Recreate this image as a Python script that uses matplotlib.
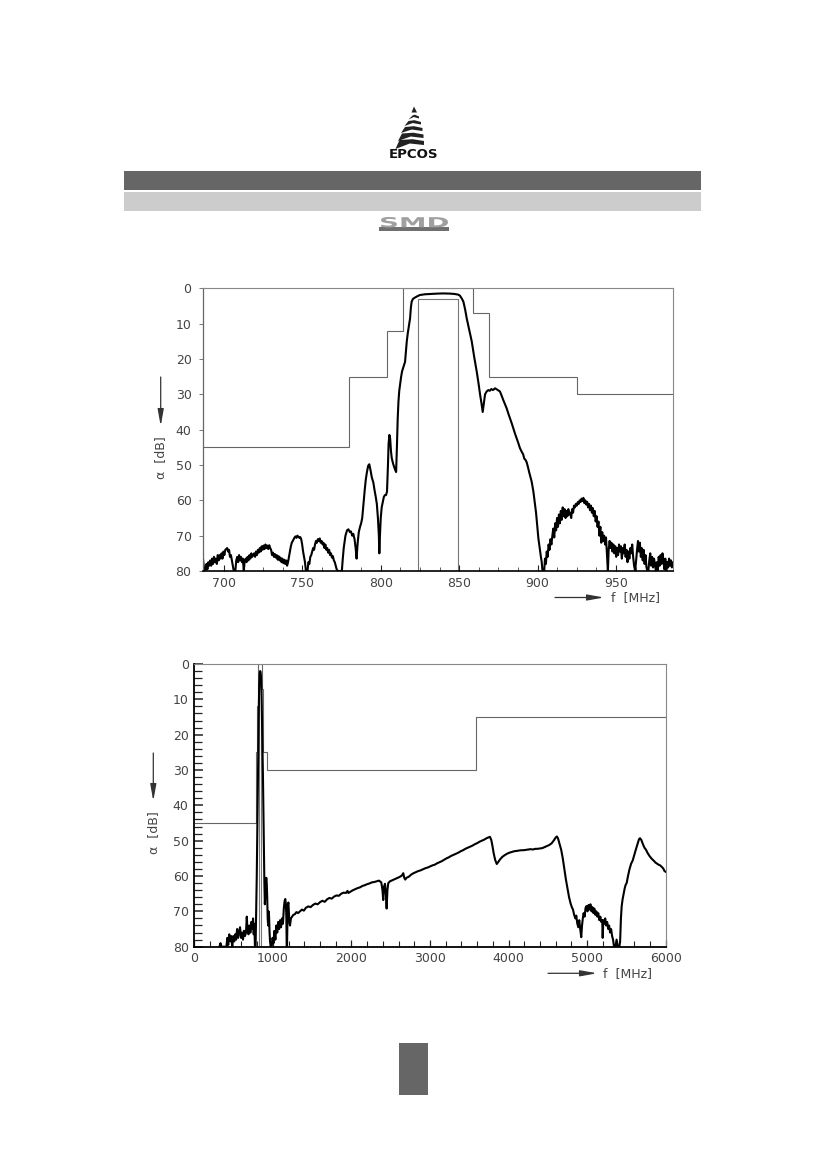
import matplotlib
matplotlib.use("Agg")
import matplotlib.pyplot as plt
from matplotlib.ticker import MultipleLocator, FixedLocator
from matplotlib.patches import Rectangle, Polygon, PathPatch
from matplotlib.textpath import TextPath
from matplotlib.font_manager import FontProperties
from matplotlib.transforms import Affine2D

plt.rcParams['font.family'] = ['DejaVu Sans']

# ---------------- data: narrow-band chart ----------------
top_f = [686.5, 687.0, 687.6, 688.3, 688.9, 689.5, 690.1, 690.7, 691.3, 691.9, 692.5, 693.1, 693.7, 694.3,
         694.9, 695.5, 696.1, 696.7, 697.3, 697.9, 698.5, 699.1, 699.7, 700.3, 700.9, 701.5, 702.1, 702.7,
         703.3, 703.9, 704.5, 705.1, 705.7, 706.3, 707.3, 707.9, 708.5, 709.1, 709.7, 710.3, 710.9, 711.5,
         712.1, 712.7, 713.3, 713.9, 714.5, 715.1, 715.7, 716.3, 716.9, 717.5, 718.1, 718.7, 719.3, 719.9,
         720.5, 721.1, 721.7, 722.3, 722.9, 723.5, 724.1, 724.7, 725.3, 725.9, 726.5, 727.1, 727.7, 728.3,
         728.9, 729.5, 730.1, 730.7, 731.3, 731.9, 732.5, 733.1, 733.7, 734.3, 734.9, 735.5, 736.1, 736.7,
         737.3, 737.9, 738.5, 739.1, 739.7, 740.3, 740.9, 741.5, 742.1, 742.7, 743.3, 743.9, 744.5, 745.1,
         745.7, 746.3, 746.9, 747.5, 748.1, 748.7, 749.3, 749.9, 750.5, 751.1, 751.7, 752.3, 753.3, 753.9,
         754.5, 755.1, 755.7, 756.3, 756.9, 757.5, 758.1, 758.7, 759.3, 759.9, 760.5, 761.1, 761.7, 762.3,
         762.9, 763.5, 764.1, 764.7, 765.3, 765.9, 766.5, 767.1, 767.7, 768.3, 768.9, 769.5, 770.1, 770.7,
         771.3, 771.9, 772.5, 775.2, 775.8, 776.4,
         777.5, 778.5, 779.4, 780.3, 781.0, 781.8, 782.5, 783.3, 784.0, 784.6, 785.3, 786.0, 786.8, 787.5,
         788.2, 789.0, 789.8, 790.5, 791.2, 792.0, 792.7, 793.5, 794.3, 795.3, 796.0, 796.8, 797.5, 798.2,
         798.8, 799.1, 799.5, 800.0, 800.6, 801.3, 802.0, 802.7, 803.4, 804.0, 804.6, 805.0, 805.5, 806.0,
         806.5, 807.0, 807.8, 808.5, 809.3, 809.8, 810.3, 810.8, 811.3, 811.8, 812.4, 813.0, 813.6, 814.3,
         815.0, 815.5, 816.0, 816.6, 817.3, 818.0, 818.7, 819.2, 819.7, 820.5, 821.9, 823.5, 825.0, 828.0,
         832.0, 836.0, 840.0, 844.0, 847.0, 849.5, 850.5, 851.8, 852.7, 853.8, 854.8, 856.4, 858.0, 859.6,
         861.2, 862.3, 863.3, 864.2, 865.0, 865.6, 866.5, 867.5, 868.6, 869.5, 870.5, 871.5, 872.9, 874.0,
         875.0, 876.0, 877.0, 878.0, 879.2, 880.3, 881.3, 882.4, 883.5, 884.5, 885.5, 886.6, 887.7, 888.8,
         889.8, 890.8, 891.5, 892.2, 893.0, 893.8, 894.6, 895.4, 896.2, 897.3, 898.4, 899.0, 899.5, 900.0,
         900.5, 901.0, 901.6, 902.1, 902.6, 903.1, 904.2, 904.7, 905.3, 905.8, 906.4, 907.0, 907.6, 908.2,
         908.8, 909.4, 910.0, 910.6, 911.2, 911.8, 912.4, 913.0, 913.6, 914.2, 914.8, 915.4, 916.0, 916.6,
         917.2, 917.8, 918.4, 919.0, 919.6, 920.2, 920.8, 921.4, 922.0, 922.6, 923.2, 923.8, 924.4, 925.0,
         925.6, 926.2, 926.8, 927.4, 928.0, 928.6, 929.2, 929.8, 930.4, 931.0, 931.6, 932.2, 932.8, 933.4,
         934.0, 934.6, 935.2, 935.8, 936.4, 937.0, 937.6, 938.2, 938.8, 939.4, 940.0, 940.6, 941.2, 941.8,
         942.4, 943.0, 943.6, 944.2, 944.8, 945.3, 945.9, 946.5, 947.1, 947.7, 948.3, 948.9, 949.5, 950.1,
         950.7, 951.3, 951.9, 952.5, 953.1, 953.7, 954.3, 954.9, 955.5, 956.1, 956.7, 957.3, 957.9, 958.5,
         959.1, 959.7, 960.3, 960.9, 961.5, 962.2, 962.8, 963.4, 964.0, 964.6, 965.2, 965.8, 966.4, 967.0,
         967.6, 968.2, 968.8, 969.4, 970.0, 970.6, 971.2, 971.8, 972.4, 973.0, 973.6, 974.2, 974.8, 975.4,
         976.0, 976.6, 977.2, 977.8, 978.4, 979.0, 979.6, 980.2, 980.8, 981.4, 982.0, 982.6, 983.2, 983.8,
         984.4, 985.0, 985.6, 986.5]
top_db = [75.5, 78, 80, 80, 78, 79.5, 77.5, 78.5, 77, 78.5, 76.5, 78, 76, 77.5,
          76.5, 78, 75.5, 77, 75.5, 76.5, 75, 76.5, 74.5, 75.5, 74, 73.8, 73.5, 74.5,
          74, 76, 75.5, 77, 78.5, 80, 80, 77, 76, 77.5, 75.5, 77, 76, 77.5,
          76.5, 80, 77, 76.5, 77.5, 76, 77, 75.5, 76.5, 75, 76, 75.5, 75, 76,
          74.5, 75.5, 74, 74.8, 73.5, 74.5, 73, 74, 72.8, 73.8, 72.5, 73.5, 72.8, 73.8,
          72.7, 73.5, 74, 75.5, 74.8, 76, 75.2, 76.2, 75.5, 76.8, 75.8, 77, 76.2, 77.5,
          76.5, 77.8, 76.8, 78, 77, 78.5, 77.5, 76, 74.5, 73, 72, 71.5, 71, 70.5,
          70.2, 70.6, 70, 70.3, 70.6, 70.4, 71, 72.5, 74.5, 76, 77.5, 80, 80, 77.5,
          78, 76, 75.5, 74.5, 73.5, 74, 72.5, 71.5, 72, 71, 71.5, 70.8, 72, 71.5,
          72.5, 72, 73.5, 72.5, 74, 73.5, 74.8, 74, 75.5, 75, 76.2, 75.8, 77, 77.5,
          78.5, 79.5, 80, 80, 76.5, 73.5,
          70, 68.5, 68.2, 69, 68.8, 70, 69.5, 71, 73.5, 76.5, 72, 69, 67.5, 66.5,
          65, 61, 57, 54, 52, 50.2, 49.8, 51.5, 53.5, 55, 57, 59, 61, 65,
          70, 75, 70, 65, 62, 60.5, 59, 58.5, 58.5, 57.5, 50, 44, 41.5, 42.5,
          46, 48, 49.5, 50.5, 51.5, 52, 45, 37, 32, 29, 27, 25, 23.5, 22.5,
          21.5, 20.8, 18, 15, 12.5, 10.5, 8.5, 5.5, 3.8, 3.0, 2.6, 2.2, 1.9, 1.7,
          1.6, 1.5, 1.45, 1.5, 1.6, 1.8, 2.1, 3.0, 3.8, 6, 8.5, 11.8, 15, 19.5,
          23.6, 26.8, 30, 32.5, 35, 33, 30, 29.2, 28.8, 29, 28.5, 28.8, 28.3, 28.6,
          28.9, 29.2, 30.3, 31.5, 32.8, 34, 35.4, 36.8, 38.2, 39.6, 41.0, 42.4, 43.8, 45.3,
          46.2, 47.0, 48.2, 48.5, 49.2, 50.5, 52, 53.3, 54.7, 57.5, 61.3, 63.5, 66, 68.5,
          70.8, 72.5, 74.5, 76, 77.4, 80, 80, 76.5, 78, 74.5, 76, 72.5, 74, 71,
          72.5, 70, 68, 70.5, 66.5, 68.5, 65, 67.5, 64, 66.5, 63, 65.5, 62, 64.5,
          62.5, 65, 63, 64.5, 62.5, 64, 63.5, 65, 62.5, 63.5, 61.5, 62, 61, 61.5,
          60.5, 61, 60, 60.5, 59.5, 60.2, 59.3, 60.8, 60, 61.2, 60.4, 62, 61, 62.8,
          61.5, 63.5, 62.2, 64.5, 63, 66, 64.5, 67.5, 66, 70, 67.5, 72, 69, 71.5,
          70, 72.5, 70.5, 75, 80, 74, 71.5, 73.5, 72, 74.5, 72.5, 75, 73, 76,
          73.5, 75.5, 72.5, 74.5, 73, 76.5, 73.5, 75, 72.5, 76, 74, 77.5, 74.5, 76.5,
          73.5, 75, 72.5, 76, 78.5, 80, 77, 74, 71.5, 74.5, 72, 76, 73.5, 77,
          74, 78, 75.5, 79, 80, 80, 77, 75, 78.5, 76, 79, 76.5, 78, 80,
          77.5, 80, 76, 78.5, 75.5, 78, 75, 77, 79.5, 76.5, 80, 77.5, 79, 76.5,
          78.5, 77, 79, 77.5]

# masks (narrow-band chart)
top_mask_edges = [686.5, 780, 804, 814, 859, 869, 925, 986.5]
top_mask_levels = [45, 25, 12, 0, 7, 25, 30]
pass_edges = [824, 849]
pass_levels = [3]

# ---------------- data: wide-band chart ----------------
wide_f = [320, 333, 345, 410, 420, 432, 445, 458, 470, 483, 496, 508, 520, 532, 545, 558, 570, 582, 595,
          608, 620, 632, 645, 658, 668, 678, 690, 702, 714, 726, 738, 748, 756, 764, 772, 780, 788, 795,
          802, 808, 814, 820, 826, 832, 838, 844, 850, 856, 862, 868, 874, 880, 886, 892, 898, 904, 910,
          916, 922, 928, 934, 940, 946, 952, 958, 964, 972, 985, 996, 1008, 1020, 1032, 1044, 1056, 1068,
          1080, 1092, 1104, 1116, 1128, 1140, 1150, 1158, 1166, 1172, 1176, 1180, 1186, 1192, 1198, 1204,
          1210, 1218, 1230, 1245, 1260, 1280, 1300, 1320, 1345, 1370, 1395, 1420, 1450, 1480, 1510, 1540,
          1570, 1600, 1630, 1660, 1690, 1720, 1750, 1780, 1810, 1840, 1870, 1900, 1930, 1950, 1960, 1990,
          2020, 2050, 2080, 2110, 2140, 2170, 2200, 2230, 2260, 2290, 2320, 2350, 2380, 2395, 2405, 2415,
          2427, 2438, 2448, 2458, 2469, 2490, 2520, 2550, 2580, 2610, 2640, 2660, 2672, 2685, 2700, 2730,
          2760, 2790, 2820, 2850, 2880, 2910, 2940, 2970, 3000, 3030, 3060, 3090, 3120, 3150, 3180, 3210,
          3240, 3270, 3300, 3330, 3360, 3390, 3420, 3450, 3480, 3510, 3540, 3570, 3600, 3630, 3660, 3690,
          3720, 3750, 3763, 3780, 3795, 3810, 3830, 3850, 3870, 3895, 3920, 3950, 3980, 4010, 4040, 4070,
          4100, 4130, 4160, 4190, 4220, 4250, 4280, 4310, 4340, 4370, 4400, 4430, 4460, 4490, 4520, 4550,
          4580, 4600, 4615, 4630, 4650, 4670, 4690, 4710, 4730, 4750, 4770, 4790, 4805, 4820, 4835, 4850,
          4862, 4875, 4888, 4900, 4912, 4925, 4935, 4945, 4955, 4968, 4980, 4992, 5005, 5018, 5030, 5042,
          5055, 5068, 5080, 5092, 5105, 5118, 5130, 5142, 5155, 5168, 5180, 5192, 5198, 5206, 5218, 5230,
          5242, 5255, 5268, 5280, 5292, 5305, 5318, 5330, 5342, 5360, 5375, 5390, 5410, 5420, 5430, 5440,
          5452, 5465, 5478, 5490, 5503, 5520, 5540, 5560, 5580, 5600, 5620, 5640, 5660, 5673, 5690, 5710,
          5730, 5750, 5770, 5790, 5810, 5830, 5850, 5870, 5890, 5910, 5930, 5950, 5970, 5985, 6000]
wide_db = [80, 79, 80, 80, 77.5, 79.5, 76.5, 78.5, 77, 80, 77, 78.5, 76.5, 78, 75, 77.5, 76, 74.5, 77.5,
           76, 78, 75.5, 77, 76, 71.5, 75.5, 76.5, 74, 76, 73, 75, 72, 76.5, 73.5, 80, 80, 70, 60,
           48, 36, 24, 14, 6, 2.5, 2.0, 2.3, 4, 8, 16, 24, 32, 42, 52, 62, 68, 65, 62,
           60.5, 62, 66, 72, 74, 70, 71.5, 76, 78.5, 80, 80, 77.5, 79, 75.5, 78, 74, 76, 73,
           75, 72.5, 74.5, 72, 73.5, 69, 67, 66.5, 68, 72, 80, 80, 72, 68, 67.5, 70,
           73, 74, 72, 71.5, 71, 70.8, 70.2, 70.5, 70, 69.5, 69.8, 69, 68.6, 68.8, 68.2, 67.8,
           68, 67.4, 67, 67.3, 66.6, 66.2, 66.4, 65.8, 65.5, 65.6, 65, 64.7, 64.8, 64.2, 64.8, 64.4,
           64, 63.7, 63.4, 63.2, 62.8, 62.6, 62.3, 62.1, 61.8, 61.7, 61.5, 61.3, 61.8, 64, 66.8, 63,
           62.2, 65, 69.2, 64, 62, 61.5, 61.2, 60.9, 60.6, 60.3, 59.9, 59.2, 60.5, 61, 60.5, 60.2,
           59.6, 59.2, 58.9, 58.6, 58.4, 58.1, 57.8, 57.6, 57.3, 57.0, 56.8, 56.4, 56.1, 55.8, 55.4, 55.0,
           54.7, 54.3, 54.0, 53.7, 53.4, 53.0, 52.7, 52.3, 52.0, 51.7, 51.4, 51.0, 50.7, 50.3, 50.0, 49.7,
           49.3, 49.0, 48.9, 49.8, 51.5, 53.5, 55.5, 56.6, 56, 55.2, 54.6, 54.1, 53.7, 53.4, 53.2, 53.0,
           52.9, 52.8, 52.7, 52.7, 52.6, 52.5, 52.4, 52.5, 52.3, 52.3, 52.2, 52.1, 51.8, 51.5, 51.2, 50.7,
           49.8, 49.1, 48.8, 49.4, 51, 52.6, 55, 58, 61, 63.5, 66, 67.8, 68.8, 69.5, 71, 72,
           71.2, 73.5, 74.5, 72.5, 75, 77.3, 74, 72, 70.5, 71.5, 69, 68.5, 70, 68.2, 69.5, 68,
           70, 68.8, 70.5, 69.2, 71, 70, 71.5, 70.5, 72.5, 71.5, 73, 72.5, 77.5, 72.5, 73.5, 72,
           74, 73, 75, 74, 76, 75, 77, 78, 80, 80, 78, 80, 80, 78.5, 72, 68.5,
           66.5, 65, 63.5, 62.5, 62, 60, 58, 56.5, 55.6, 54, 52.5, 51, 49.6, 49.3, 49.8, 51,
           52, 52.6, 53.5, 54.2, 54.8, 55.3, 55.7, 56.2, 56.5, 56.8, 57, 57.4, 57.9, 58.6, 58.8]

wide_mask_edges = [0, 780, 804, 814, 859, 869, 925, 3580, 6000]
wide_mask_levels = [45, 25, 12, 0, 7, 25, 30, 15]

top_xticks = [700, 750, 800, 850, 900, 950]
wide_xticks = [0, 1000, 2000, 3000, 4000, 5000, 6000]
yticks = [0, 10, 20, 30, 40, 50, 60, 70, 80]

W, H = 826, 1169
fig = plt.figure(figsize=(W / 100, H / 100), dpi=100)

# ---------------- page decoration ----------------
page = fig.add_axes([0, 0, 1, 1])
page.set_xlim(0, W)
page.set_ylim(H, 0)
page.axis('off')

page.add_patch(Rectangle((124, 171), 577, 18.5, color='#666666', lw=0))
page.add_patch(Rectangle((124, 192), 577, 19, color='#cccccc', lw=0))
page.add_patch(Rectangle((399, 1043), 29, 52, color='#666666', lw=0))

# EPCOS logo
logo_col = '#222222'
page.add_patch(Polygon([(414, 106.5), (411.5, 112.5), (417, 112.5)], closed=True, color=logo_col, lw=0))
stripes = [(115.5, 118.5, 408.5, 419.0, 1.0),
           (121.0, 124.5, 404.5, 421.0, 1.5),
           (127.0, 131.0, 401.0, 422.5, 2.0),
           (133.5, 138.0, 398.0, 423.5, 3.0),
           (140.0, 145.0, 395.5, 424.0, 4.0)]
for yt, yb, xl, xr, tail in stripes:
    page.add_patch(Polygon([(xl + 4, yt), (xl + (xr - xl) * 0.6, yt - 0.8), (xr, yt + 1.0),
                            (xr, yb), (xl + (xr - xl) * 0.5, yb - 1.5), (xl, yb + tail)],
                           closed=True, color=logo_col, lw=0))
page.text(413, 154, "EPCOS", ha='center', va='center', fontsize=9.6, fontweight='bold',
          color='#111111', family='DejaVu Sans')

# SMD logo (stretched lettering over a dark bar)
page.add_patch(Rectangle((379, 226.5), 70, 4.5, color='#707070', lw=0))
tp = TextPath((0, 0), "SMD", size=10, prop=FontProperties(family='DejaVu Sans', weight='bold'))
bb = tp.get_extents()
sx = (448 - 381) / bb.width
sy = (227.5 - 217) / bb.height
trans = Affine2D().translate(-bb.x0, -bb.y0).scale(sx, -sy).translate(381, 227.5)
page.add_patch(PathPatch(trans.transform_path(tp), color='#a0a0a0', lw=0))

# axis labels with arrows
lab_col = '#444444'
arrow_style = '-|>,head_length=1.0,head_width=0.18'
page.annotate('', xy=(160.7, 426), xytext=(160.7, 377),
              arrowprops=dict(arrowstyle=arrow_style, lw=0.9, color='#333333', shrinkA=0, shrinkB=0))
page.text(160.5, 458, "α  [dB]", rotation=90, ha='center', va='center', fontsize=9, color=lab_col)
page.annotate('', xy=(604, 597.5), xytext=(555, 597.5),
              arrowprops=dict(arrowstyle=arrow_style, lw=0.9, color='#333333', shrinkA=0, shrinkB=0))
page.text(611, 598, "f  [MHz]", ha='left', va='center', fontsize=9, color=lab_col)

page.annotate('', xy=(153.3, 801), xytext=(153.3, 753),
              arrowprops=dict(arrowstyle=arrow_style, lw=0.9, color='#333333', shrinkA=0, shrinkB=0))
page.text(153.3, 833, "α  [dB]", rotation=90, ha='center', va='center', fontsize=9, color=lab_col)
page.annotate('', xy=(597, 973.3), xytext=(548, 973.3),
              arrowprops=dict(arrowstyle=arrow_style, lw=0.9, color='#333333', shrinkA=0, shrinkB=0))
page.text(603, 974, "f  [MHz]", ha='left', va='center', fontsize=9, color=lab_col)

mask_col = '#666666'

# ---------------- narrow-band chart ----------------
ax1 = fig.add_axes([202.7 / W, 1 - 571.0 / H, (673.3 - 202.7) / W, (571.0 - 288.3) / H])
ax1.stairs(top_mask_levels, top_mask_edges, baseline=None, color=mask_col, lw=0.8)
ax1.stairs(pass_levels, pass_edges, baseline=80, color='#777777', lw=0.8)
ax1.plot(top_f, top_db, color='black', lw=1.5, solid_joinstyle='round')
ax1.set_xlim(top_mask_edges[0], top_mask_edges[-1])
ax1.set_ylim(80, 0)
ax1.xaxis.set_major_locator(FixedLocator(top_xticks))
ax1.xaxis.set_minor_locator(MultipleLocator(12.5))
ax1.yaxis.set_major_locator(FixedLocator(yticks))
ax1.tick_params(axis='x', which='major', direction='in', length=4, width=0.8, colors='#222222',
                labelcolor=lab_col, labelsize=9, pad=4)
ax1.tick_params(axis='x', which='minor', direction='in', length=3, width=0.6, colors='#444444')
ax1.tick_params(axis='y', which='major', direction='out', length=3, width=0.7, colors='#777777',
                labelcolor=lab_col, labelsize=9, pad=5)
ax1.spines['bottom'].set_color('black')
ax1.spines['bottom'].set_linewidth(1.2)
ax1.spines['left'].set_color('#666666')
ax1.spines['left'].set_linewidth(0.9)
for s in ('top', 'right'):
    ax1.spines[s].set_color('#888888')
    ax1.spines[s].set_linewidth(0.8)

# ---------------- wide-band chart ----------------
ax2 = fig.add_axes([194.3 / W, 1 - 946.7 / H, (665.7 - 194.3) / W, (946.7 - 664.0) / H])
ax2.stairs(wide_mask_levels, wide_mask_edges, baseline=None, color=mask_col, lw=0.8)
ax2.stairs(pass_levels, pass_edges, baseline=80, color='#777777', lw=0.8)
ax2.plot(wide_f, wide_db, color='black', lw=1.5, solid_joinstyle='round')
ax2.set_xlim(0, 6000)
ax2.set_ylim(80, 0)
ax2.xaxis.set_major_locator(FixedLocator(wide_xticks))
ax2.xaxis.set_minor_locator(MultipleLocator(200))
ax2.yaxis.set_major_locator(FixedLocator(yticks))
ax2.yaxis.set_minor_locator(MultipleLocator(2))
ax2.tick_params(axis='x', which='major', direction='in', length=5, width=0.9, colors='#222222',
                labelcolor=lab_col, labelsize=9, pad=4)
ax2.tick_params(axis='x', which='minor', direction='in', length=4, width=0.8, colors='#222222')
ax2.tick_params(axis='y', which='major', direction='in', length=6.5, width=1.1, colors='#222222',
                labelcolor=lab_col, labelsize=9, pad=4)
ax2.tick_params(axis='y', which='minor', direction='in', length=5.5, width=0.9, colors='#222222')
for s in ('bottom', 'left'):
    ax2.spines[s].set_color('black')
    ax2.spines[s].set_linewidth(1.3)
for s in ('top', 'right'):
    ax2.spines[s].set_color('#888888')
    ax2.spines[s].set_linewidth(0.8)

fig.savefig("out.png", dpi=100)
